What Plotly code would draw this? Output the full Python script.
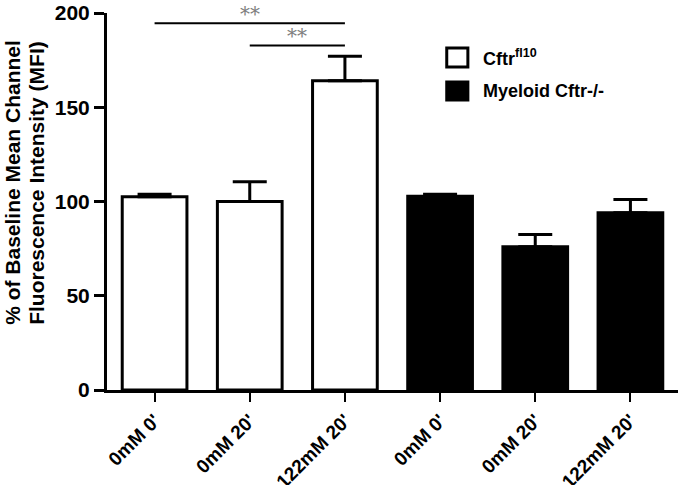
import plotly.graph_objects as go

FONT = "Arial, Liberation Sans, sans-serif"

# data
conditions = ["0mM 0'", "0mM 20'", "122mM 20'", "0mM 0'", "0mM 20'", "122mM 20'"]
cftr_fl10 = [102.5, 100.0, 164.0]
cftr_fl10_err = [1.3, 10.5, 13.0]
myeloid_ko = [102.8, 76.0, 94.0]
myeloid_ko_err = [1.0, 6.5, 7.0]

# significance brackets: (from bar, to bar, height)
sig_pairs = [(0, 2, 194.5), (1, 2, 182.8)]
sig_label = "**"

pos = list(range(len(conditions)))

fig = go.Figure()

fig.add_trace(go.Bar(
    x=pos[:3], y=cftr_fl10, width=0.68,
    marker=dict(color="white", line=dict(color="black", width=3)),
    error_y=dict(type="data", array=cftr_fl10_err, arrayminus=[0] * 3, symmetric=False,
                 color="black", thickness=3, width=17),
    showlegend=False,
))
fig.add_trace(go.Bar(
    x=pos[3:], y=myeloid_ko, width=0.68,
    marker=dict(color="black", line=dict(color="black", width=3)),
    error_y=dict(type="data", array=myeloid_ko_err, arrayminus=[0] * 3, symmetric=False,
                 color="black", thickness=3, width=17),
    showlegend=False,
))

# significance lines + asterisks
for a, b, h in sig_pairs:
    fig.add_shape(type="line", x0=a, x1=b, y0=h, y1=h, xref="x", yref="y",
                  line=dict(color="black", width=2))
    fig.add_annotation(x=(a + b) / 2, y=h, text=sig_label, showarrow=False,
                       yanchor="bottom", yshift=-5,
                       font=dict(family="DejaVu Serif, serif", size=20, color="#808080"))

# hand-built legend (big squares like the original)
legend_items = [("Cftr<sup>fl10</sup>", "white", 0.907, 0.857),
                ("Myeloid Cftr-/-", "black", 0.817, 0.769)]
for name, fill, top, bot in legend_items:
    fig.add_shape(type="rect", xref="paper", yref="paper",
                  x0=0.595, x1=0.632, y0=bot, y1=top,
                  fillcolor=fill, line=dict(color="black", width=3))
    fig.add_annotation(xref="paper", yref="paper", x=0.655, y=(top + bot) / 2,
                       text="<b>" + name + "</b>", showarrow=False,
                       xanchor="left", yanchor="middle",
                       font=dict(family=FONT, size=18, color="black"))

# y title, two lines drawn separately to keep them tight
title_lines = ["% of Baseline Mean Channel", "Fluorescence Intensity (MFI)"]
for i, line in enumerate(title_lines):
    fig.add_annotation(xref="paper", yref="paper", x=-0.166 + i * 0.042, y=0.55,
                       text="<b>" + line + "</b>",
                       textangle=-90, showarrow=False, xanchor="center", yanchor="middle",
                       font=dict(family=FONT, size=21, color="black"))

fig.update_layout(
    width=679, height=485,
    margin=dict(l=107, r=1, t=13, b=95),
    plot_bgcolor="white", paper_bgcolor="white",
    bargap=0.32,
    font=dict(family=FONT, color="black"),
    xaxis=dict(
        range=[-0.5, 5.5], tickvals=pos,
        ticktext=["<b>" + c + "</b>" for c in conditions],
        tickangle=-45, tickfont=dict(size=19, family=FONT, color="black"),
        ticks="outside", ticklen=9, tickwidth=2, tickcolor="black",
        showline=True, linecolor="black", linewidth=3,
        showgrid=False, zeroline=False, automargin=False,
    ),
    yaxis=dict(
        range=[0, 200], tickvals=[0, 50, 100, 150, 200],
        tickfont=dict(size=21, family=FONT, color="black", weight="bold"),
        ticks="outside", ticklen=10, tickwidth=3, tickcolor="black",
        showline=True, linecolor="black", linewidth=3,
        showgrid=False, zeroline=False, automargin=False,
    ),
)

# drop the browser's default body margin so the figure sits at the page corner
fig.write_html("out.html", config={"displayModeBar": False},
               post_script="document.body.style.margin='0';")
